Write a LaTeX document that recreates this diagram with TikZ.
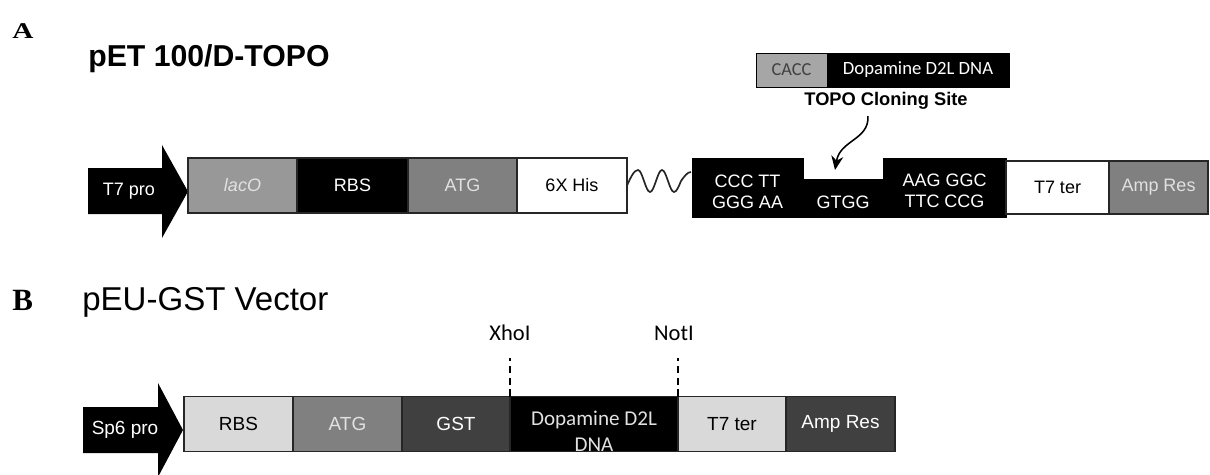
\documentclass[tikz,border=0pt]{standalone}
\usepackage{fontspec}
\setmainfont{Liberation Sans}
\newfontfamily\calibrifont{Carlito}
\newfontfamily\letterfont{Liberation Serif}
\usetikzlibrary{positioning,arrows.meta}

\newcommand{\px}{0.025cm}
\definecolor{lacgray}{RGB}{152,152,152}
\definecolor{midgray}{RGB}{128,128,128}
\definecolor{darkgray}{RGB}{64,64,64}
\definecolor{palegray}{RGB}{217,217,217}
\definecolor{caccgray}{RGB}{166,166,166}
\definecolor{softwhite}{RGB}{225,225,225}

\tikzset{
  seg/.style={draw=black!85, line width=1pt, minimum height=55*\px,
              inner sep=0pt, outer sep=0pt, font=\fontsize{12.8}{15.5}\selectfont},
  segB/.style={seg, font=\fontsize{13.5}{15.5}\selectfont},
  blk/.style={fill=black, draw=black, inner sep=0pt, outer sep=0pt, text=white,
              align=center, font=\fontsize{12.8}{15}\selectfont},
  promoter/.style={fill=black},
  wave/.style={line width=1.2pt, black!85},
  cutline/.style={line width=1.3pt, dash pattern=on 5pt off 3.5pt},
  sitelabel/.style={font=\calibrifont\fontsize{16}{18}\selectfont, inner sep=0pt},
}

\begin{document}
\begin{tikzpicture}[x=0.025cm, y=-0.025cm]
\useasboundingbox (0,0) rectangle (1210,474);

% ---- A: pET 100/D-TOPO
\node[anchor=base west, inner sep=0pt, font=\letterfont\bfseries\fontsize{16}{16}\selectfont]
  (labA) at (12,38) {\scalebox{1.3}[1]{A}};
\node[anchor=base west, inner sep=0pt, font=\bfseries\fontsize{21.5}{24}\selectfont]
  (titleA) at (88,66.5) {pET 100/D-TOPO};

\fill[promoter] (88,168) -- (162,168) -- (162,145) -- (188,191.5)
  -- (162,238) -- (162,214) -- (88,214) -- cycle;
\node[text=white, font=\fontsize{12.8}{15}\selectfont] (t7pro) at (129,191) {T7 pro};

\node[seg, fill=lacgray, text=softwhite, minimum width=109*\px, anchor=west]
  (lacO) at (188,185.5) {\textit{lacO}};
\node[seg, fill=black, text=white, minimum width=111*\px, right=0pt of lacO] (rbsA) {RBS};
\node[seg, fill=midgray, text=softwhite, minimum width=109*\px, right=0pt of rbsA] (atgA) {ATG};
\node[seg, fill=white, minimum width=110*\px, right=0pt of atgA] (his) {6X His};

\node[blk, minimum width=111*\px, minimum height=59*\px, text height=42*\px, text depth=0pt]
  (ccc) at (747.5,187.5) {CCC TT\\GGG AA};
\node[blk, minimum width=80*\px, minimum height=38*\px, anchor=south west,
      text height=20*\px, text depth=0pt] (gtgg) at (ccc.south east) {GTGG};
\node[blk, minimum width=123*\px, minimum height=59*\px, anchor=south west,
      text height=40*\px, text depth=0pt]
  (aag) at (ccc.south east -| 883,0) {AAG GGC\\TTC CCG};
\node[seg, fill=white, minimum width=103*\px, minimum height=53*\px, right=0pt of aag]
  (t7terA) {T7 ter};
\node[seg, fill=midgray, text=softwhite, minimum width=99*\px, minimum height=53*\px,
      right=0pt of t7terA] (ampA) {Amp Res};

% linker
\draw[wave] (his.east) sin ++(11,-15.5) cos ++(6,11) sin ++(6,11) cos ++(6,-11)
  sin ++(6,-11) cos ++(6,11) sin ++(6,11) cos ++(7,-11) sin ++(10,-9);

% TOPO insert
\node[draw=black, fill=caccgray, text=darkgray, minimum width=71*\px, minimum height=34*\px,
      inner sep=0pt, outer sep=0pt, font=\calibrifont\fontsize{13}{15}\selectfont]
  (cacc) at (791.5,70) {CACC};
\node[draw=black, fill=black, text=white, minimum width=182*\px, minimum height=34*\px,
      inner sep=0pt, outer sep=0pt, font=\calibrifont\fontsize{13.3}{15}\selectfont,
      right=0pt of cacc] (d2lA) {Dopamine D2L DNA};
\node[font=\bfseries\fontsize{13}{15}\selectfont, inner sep=1pt] (topo) at (886,101)
  {TOPO Cloning Site};
\draw[line width=1.1pt, -{Stealth[length=14*\px, width=12*\px]}]
  ([xshift=-18*\px, yshift=-5*\px]topo.south) .. controls (869,140) and (840,140)
  .. ([shift={(-8,-9)}]gtgg.north);

% ---- B: pEU-GST Vector
\node[anchor=base west, inner sep=0pt, font=\letterfont\bfseries\fontsize{22}{22}\selectfont]
  (labB) at (12,310) {B};
\node[anchor=base west, inner sep=0pt, font=\fontsize{23.5}{26}\selectfont]
  (titleB) at (82,310) {pEU-GST Vector};

\fill[promoter] (83,407) -- (158,407) -- (158,383) -- (183,430)
  -- (158,477) -- (158,453) -- (83,453) -- cycle;
\node[text=white, font=\fontsize{13.5}{15}\selectfont] (sp6pro) at (125,430) {Sp6 pro};

\node[segB, fill=palegray, minimum width=109*\px, anchor=west] (rbsB) at (184,424) {RBS};
\node[segB, fill=midgray, text=softwhite, minimum width=109*\px, right=0pt of rbsB] (atgB) {ATG};
\node[segB, fill=darkgray, text=white, minimum width=108*\px, right=0pt of atgB] (gst) {GST};
\node[segB, fill=black, text=softwhite, minimum width=168*\px, right=0pt of gst, align=center,
      font=\calibrifont\fontsize{15}{18}\selectfont, text height=54*\px, text depth=0pt]
  (d2lB) {Dopamine D2L\\DNA};
\node[segB, fill=palegray, minimum width=108*\px, right=0pt of d2lB] (t7terB) {T7 ter};
\node[segB, fill=darkgray, text=white, minimum width=109*\px, right=0pt of t7terB] (ampB) {Amp Res};

% restriction sites
\node[sitelabel] (xho) at (510,333) {XhoI};
\node[sitelabel] (not) at (674,333) {NotI};
\draw[cutline] (gst.north east) -- ++(0,-39);
\draw[cutline] (t7terB.north west) -- ++(0,-39);

\end{tikzpicture}
\end{document}
